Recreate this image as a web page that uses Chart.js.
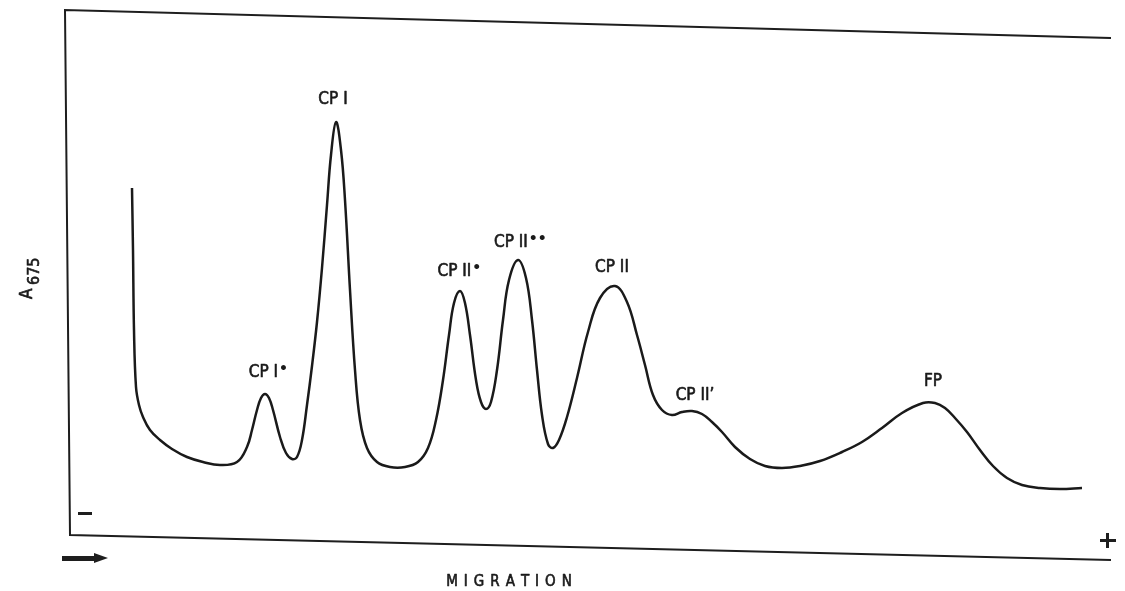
<!DOCTYPE html>
<html>
<head>
<meta charset="utf-8">
<script src="https://cdn.jsdelivr.net/npm/chart.js@4.4.1/dist/chart.umd.min.js"></script>
<style>
  html, body { margin: 0; padding: 0; background: #fff; }
  #wrap { width: 1125px; height: 591px; }
</style>
</head>
<body>
<div id="wrap"><canvas id="c" width="1125" height="591"></canvas></div>
<script>
// Migration distance (arbitrary units) and absorbance A675 (arbitrary units)
const migration = [67,68,69,71,74,78,85,95,107,122,138,155,172,182,187,192,196,200,204,208,215,221,227,232,237,242,247,252,257,262,266,271,276,280,285,290,295,302,312,325,340,353,363,371,378,384,389,395,400,405,411,416,421,426,432,438,444,453,461,467,472,477,483,488,494,502,512,523,535,550,562,572,580,588,597,607,617,627,637,647,657,670,685,700,717,735,755,777,797,817,837,858,870,880,890,902,915,928,942,957,975,995,1017];
const absorbance = [372,310,230,173,155,143,130,120,111,103,98,95,98,113,130,150,162,166,162,150,123,107,101,103,120,155,194,238,292,355,405,438,410,360,270,190,140,112,98,93,93,98,112,140,180,225,257,269,257,225,180,158,151,158,190,240,280,300,282,240,190,145,116,112,120,143,182,228,262,274,258,225,195,165,150,145,148,149,146,138,128,113,101,94,92,94,99,108,118,132,147,157,157,152,142,128,110,94,82,75,72,71,72];

// Band labels and their positions (migration, absorbance)
const bandNames = ['CP I', 'CP I', 'CP II', 'CP II', 'CP II', 'CP II\u2019', 'FP'];
const bandMarks = ['\u2022', '', '\u2022', '\u2022\u2022', '', '', ''];
const bandX = [202, 268, 393, 453, 547, 630, 868];
const bandY = [187, 460, 288, 317, 292, 164, 178];

const axisTitleX = 'MIGRATION';
const axisTitleY = 'A';
const axisTitleYSub = '675';

const points = migration.map((m, i) => ({ x: m, y: absorbance[i] }));

const FONT = '"Liberation Sans Narrow", "Arial Narrow", "DejaVu Sans Condensed", sans-serif';

function heavyText(ctx, s, x, y) {
  ctx.fillText(s, x, y);
  ctx.strokeText(s, x, y);
}

const decor = {
  id: 'decor',
  afterDraw(chart) {
    const ctx = chart.ctx;
    const a = chart.chartArea;
    const xs = chart.scales.x, ys = chart.scales.y;
    ctx.save();
    // skewed frame (hand drawn look)
    ctx.strokeStyle = '#1e1e1e';
    ctx.lineWidth = 2;
    ctx.lineCap = 'square';
    ctx.beginPath();
    ctx.moveTo(a.right, a.top + 28);
    ctx.lineTo(a.left, a.top);
    ctx.lineTo(a.left + 5, a.bottom - 25);
    ctx.lineTo(a.right, a.bottom);
    ctx.stroke();

    // band labels
    ctx.fillStyle = '#1a1a1a';
    ctx.strokeStyle = '#1a1a1a';
    ctx.lineWidth = 0.6;
    ctx.lineJoin = 'round';
    ctx.textBaseline = 'middle';
    const mainFont = '17px ' + FONT;
    const markFont = 'bold 14px DejaVu Sans';
    for (let i = 0; i < bandNames.length; i++) {
      const px = xs.getPixelForValue(bandX[i]);
      const py = ys.getPixelForValue(bandY[i]);
      ctx.font = mainFont;
      const w1 = ctx.measureText(bandNames[i]).width;
      ctx.font = markFont;
      const w2 = bandMarks[i] ? ctx.measureText(bandMarks[i]).width * 0.8 : 0;
      const x0 = px - (w1 + w2) / 2;
      ctx.font = mainFont;
      ctx.textAlign = 'left';
      heavyText(ctx, bandNames[i], x0, py);
      if (bandMarks[i]) {
        ctx.font = markFont;
        ctx.fillText(bandMarks[i], x0 + w1 + 1, py - 4);
      }
    }

    // y axis title A675, rotated
    ctx.save();
    ctx.translate(30, 283);
    ctx.rotate(-Math.PI / 2);
    ctx.textAlign = 'left';
    ctx.font = '17px ' + FONT;
    heavyText(ctx, axisTitleY, -16, -2);
    ctx.font = '16px ' + FONT;
    heavyText(ctx, axisTitleYSub, -2, 5);
    ctx.restore();

    // x axis title, letter spaced
    ctx.font = '15px ' + FONT;
    ctx.textAlign = 'left';
    const spacing = 6;
    let total = 0;
    for (const ch of axisTitleX) total += ctx.measureText(ch).width + spacing;
    total -= spacing;
    let cx = 509 - total / 2;
    for (const ch of axisTitleX) {
      heavyText(ctx, ch, cx, 582);
      cx += ctx.measureText(ch).width + spacing;
    }

    // minus and plus signs
    ctx.fillStyle = '#1e1e1e';
    ctx.fillRect(78, 512, 14, 3);
    ctx.fillRect(1100, 539, 16, 3);
    ctx.fillRect(1106, 533, 3, 15);

    // direction arrow
    ctx.beginPath();
    ctx.moveTo(62, 556);
    ctx.lineTo(94, 556);
    ctx.lineTo(94, 553);
    ctx.lineTo(108, 558);
    ctx.lineTo(94, 563);
    ctx.lineTo(94, 561);
    ctx.lineTo(62, 561);
    ctx.closePath();
    ctx.fill();
    ctx.restore();
  }
};

new Chart(document.getElementById('c'), {
  type: 'line',
  data: {
    datasets: [{
      data: points,
      borderColor: '#1a1a1a',
      borderWidth: 2.5,
      pointRadius: 0,
      fill: false,
      tension: 0.4
    }]
  },
  options: {
    responsive: false,
    animation: false,
    devicePixelRatio: 1,
    layout: { padding: { left: 65, right: 15, top: 10, bottom: 31 } },
    plugins: { legend: { display: false }, tooltip: { enabled: false } },
    scales: {
      x: { type: 'linear', min: 0, max: 1045, display: false },
      y: { type: 'linear', min: 0, max: 550, display: false }
    }
  },
  plugins: [decor]
});
</script>
</body>
</html>
